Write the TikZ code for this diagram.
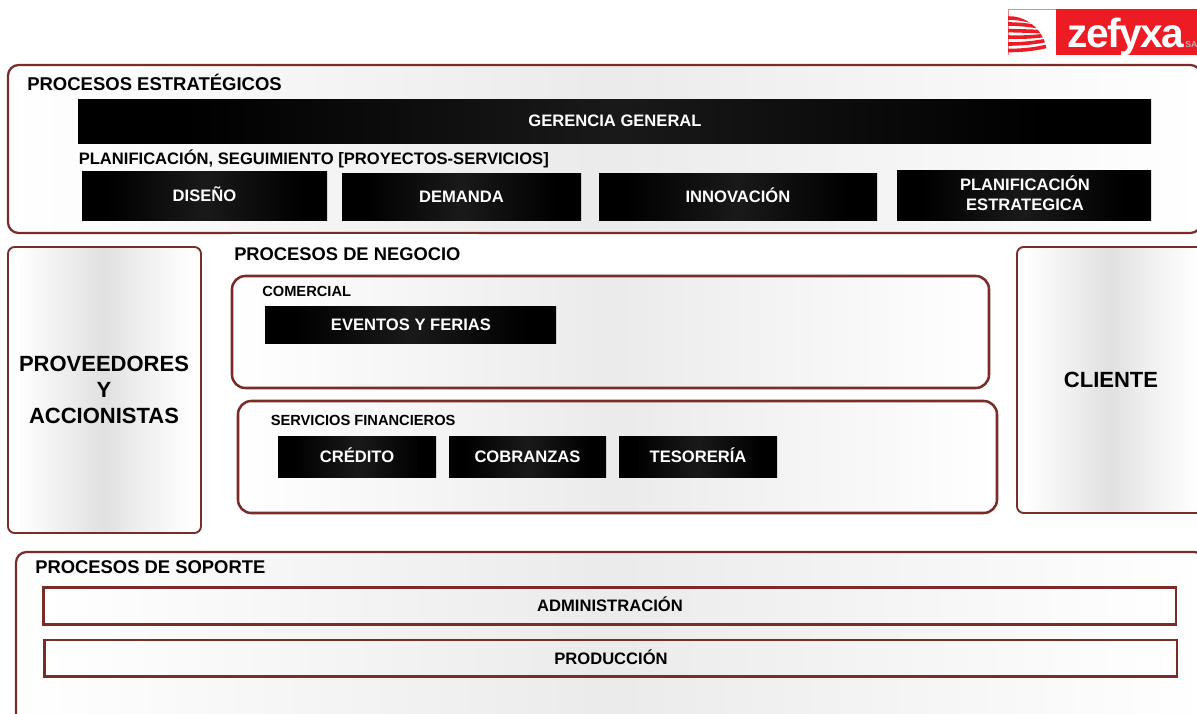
\documentclass[tikz,border=0pt]{standalone}
\usepackage{fontspec}
\setmainfont{Liberation Sans}
\pgfdeclarehorizontalshading{panelshade}{100bp}{color(0bp)=(white);color(25bp)=(white);color(50bp)=(black!8);color(75bp)=(white);color(100bp)=(white)}
\pgfdeclarehorizontalshading{sideshade}{100bp}{color(0bp)=(white);color(27bp)=(white);color(50bp)=(black!12);color(58bp)=(black!7);color(73bp)=(white);color(100bp)=(white)}
\pgfdeclarehorizontalshading{darkshade}{100bp}{color(0bp)=(black);color(30bp)=(black);color(50bp)=(black!90);color(70bp)=(black);color(100bp)=(black)}
\definecolor{edge}{HTML}{7B2C28}
\definecolor{logored}{HTML}{ED1C24}
\newcommand{\sz}[1]{\fontsize{#1}{#1}\selectfont}
\tikzset{
 panel/.style={draw=edge,line width=1.7pt,rounded corners=8pt,shading=panelshade},
 side/.style={draw=edge,line width=1.4pt,rounded corners=5pt,shading=sideshade},
 inner/.style={draw=edge,line width=1.9pt,rounded corners=10pt,shading=panelshade},
 bar/.style={draw=edge,line width=1.55pt,shading=panelshade},
 dark/.style={shading=darkshade},
 lab/.style={font=\bfseries\fontsize{12.44}{15}\selectfont,inner sep=0pt,anchor=center,align=center,text=black},
 biglab/.style={lab,font=\bfseries\fontsize{16.5}{19.7}\selectfont},
 darklab/.style={lab,text=white},
 title/.style={font=\bfseries,inner sep=0pt,anchor=base west,text=black},
 stripe/.style={logored,line width=2.7pt},
}
\begin{document}
\begin{tikzpicture}[x=0.75pt,y=-0.75pt]
\useasboundingbox (0,0) rectangle (1197,714);
\clip (0,0) rectangle (1197,714);
% logo
\fill[logored] (1056,9) rectangle (1197,55);
\draw[logored!55,line width=0.7pt] (1056,9.5) -- (1008.4,9.5) -- (1008.4,55);
\begin{scope}
\clip (1008,55) circle[radius=39];
\clip (1008,9) rectangle (1056,55);
\draw[stripe] (1008,18) .. controls (1015,18) and (1022,19) .. (1030,21);
\draw[stripe] (1008,24) .. controls (1018,24) and (1028,25) .. (1040,27);
\draw[stripe] (1008,30.5) .. controls (1020,31) and (1032,31) .. (1046,32);
\draw[stripe] (1008,37) .. controls (1020,37.5) and (1034,37) .. (1048,35);
\draw[stripe] (1008,44) .. controls (1020,44) and (1034,43) .. (1048,40);
\draw[stripe] (1008,50.5) .. controls (1020,50.5) and (1034,49.5) .. (1048,46);
\end{scope}
\node[font=\bfseries,text=white,inner sep=0pt,anchor=base west] (logotext) at (1067.5,47) {\sz{30.5}\addfontfeature{LetterSpace=-4}zefyxa};
\node[font=\bfseries,text=black!30!white,inner sep=0pt,anchor=base west] (logosa) at (1185,47) {\sz{6.5}SA};
% panels
\shade[panel] (8,65) rectangle (1201,233);
\fill[white] (232,233.6) rectangle (477,240);
\shade[side] (8,247) rectangle (201,533);
\shade[side] (1017,247) rectangle (1205,513);
\shade[inner] (232,276) rectangle (989,388);
\shade[inner] (238,401) rectangle (997,513);
\shade[panel] (16,552) rectangle (1205,730);
\shade[bar] (43.5,587.5) rectangle (1176,624.5);
\shade[bar] (44.5,640) rectangle (1177,676.5);
% dark boxes
\shade[dark] (78,99) rectangle (1151,143);
\shade[dark] (82,171) rectangle (327,220.7);
\shade[dark] (342,173) rectangle (581,220.7);
\shade[dark] (599,173) rectangle (877,220.7);
\shade[dark] (897,170) rectangle (1151,220.7);
\shade[dark] (265,306) rectangle (556,343.7);
\shade[dark] (278,436) rectangle (436,477.7);
\shade[dark] (449,436) rectangle (606,477.7);
\shade[dark] (619,436) rectangle (777,477.7);
% titles
\node[title] (t1) at (27,90) {\sz{13.87}PROCESOS ESTRATÉGICOS};
\node[title] (t2) at (78.5,164) {\sz{12.44}PLANIFICACIÓN, SEGUIMIENTO [PROYECTOS-SERVICIOS]};
\node[title] (t3) at (234,260) {\sz{13.75}PROCESOS DE NEGOCIO};
\node[title] (t4) at (262,296) {\sz{11}COMERCIAL};
\node[title] (t5) at (270.5,425) {\sz{11}SERVICIOS FINANCIEROS};
\node[title] (t6) at (35,573) {\sz{13.8}PROCESOS DE SOPORTE};
% labels
\node[darklab] (gg) at (615,121) {GERENCIA GENERAL};
\node[darklab] (dis) at (204.5,194.5) {DISEÑO};
\node[darklab] (dem) at (461.5,196.5) {DEMANDA};
\node[darklab] (inn) at (738,195.5) {INNOVACIÓN};
\node[darklab] (pla) at (1025,193) {PLANIFICACIÓN\\ESTRATEGICA};
\node[darklab] (eve) at (411,324.5) {EVENTOS Y FERIAS};
\node[darklab] (cre) at (357,455.5) {CRÉDITO};
\node[darklab] (cob) at (527.5,456.5) {COBRANZAS};
\node[darklab] (tes) at (698,455.5) {TESORERÍA};
\node[biglab] (pro) at (104,390) {PROVEEDORES\\Y\\ACCIONISTAS};
\node[biglab] (cli) at (1111,380) {CLIENTE};
\node[lab] (adm) at (610,604.5) {ADMINISTRACIÓN};
\node[lab] (prd) at (611,657.5) {PRODUCCIÓN};
\end{tikzpicture}
\end{document}
